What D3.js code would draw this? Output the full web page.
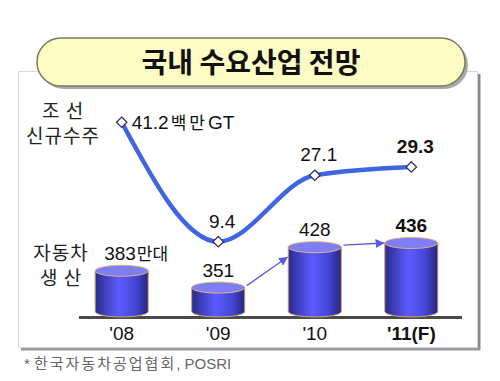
<!DOCTYPE html>
<html><head><meta charset="utf-8">
<script src="https://cdn.jsdelivr.net/npm/d3@7"></script>
<style>body{margin:0;background:#fff}svg{display:block}</style>
</head><body>
<svg id="c" width="500" height="381"></svg>
<script>
const categories = ["'08", "'09", "'10", "'11(F)"];
const carValues = [383, 351, 428, 436];
const carLabels = ["383", "351", "428", "436"];
const shipValues = [41.2, 9.4, 27.1, 29.3];
const shipLabels = ["41.2", "9.4", "27.1", "29.3"];
const title = "국내 수요산업 전망";
const footnoteSource = "한국자동차공업협회";
const footnoteTail = ", POSRI";

const svg = d3.select("#c");
const font = "Arial, 'Liberation Sans', sans-serif";
const kfont = "'Noto Sans CJK KR', sans-serif";
const defs = svg.append("defs");

// frame
svg.append("line").attr("x1",479).attr("x2",479).attr("y1",74).attr("y2",350).attr("stroke","#8a8a8a").attr("stroke-width",3);
svg.append("line").attr("x1",21).attr("x2",480).attr("y1",349).attr("y2",349).attr("stroke","#9a9a9a").attr("stroke-width",3);
svg.append("rect").attr("x",18.5).attr("y",71.5).attr("width",459).attr("height",276).attr("fill","#fff").attr("stroke","#d4d4e4");

// title pill
svg.append("rect").attr("x",40).attr("y",41).attr("width",428).attr("height",48).attr("rx",24).attr("fill","#a9a9a9");
svg.append("rect").attr("x",37).attr("y",38).attr("width",428).attr("height",48).attr("rx",24)
  .attr("fill","#fdfcc4").attr("stroke","#7a7a60").attr("stroke-width",1.5);
svg.append("text").attr("x",251).attr("y",73).attr("text-anchor","middle")
  .attr("font-family",kfont).attr("font-weight","bold").attr("font-size",28).attr("fill","#111").text(title);

// scales
const x = d3.scaleBand().domain(categories).range([71, 462]).paddingInner(0.45).paddingOuter(0.25);
const yBar = d3.scaleLinear().domain([295, 436]).range([317, 243]);
const yLine = d3.scaleLinear().domain([0, 45]).range([277, 108]);
const cx = c => x(c) + x.bandwidth()/2;

// baseline
svg.append("line").attr("x1",79).attr("x2",462).attr("y1",317.5).attr("y2",317.5).attr("stroke","#4a4a4a").attr("stroke-width",3);

// cylinder gradient
const g = defs.append("linearGradient").attr("id","cyl").attr("x1","0").attr("x2","1").attr("y1","0").attr("y2","0");
g.append("stop").attr("offset","0%").attr("stop-color","#2a2a8c");
g.append("stop").attr("offset","45%").attr("stop-color","#5c5cff");
g.append("stop").attr("offset","75%").attr("stop-color","#4646d8");
g.append("stop").attr("offset","100%").attr("stop-color","#262680");

const ry = 5.5;
const bars = svg.selectAll(".bar").data(categories).enter().append("g");
bars.each(function(c, i){
  const gg = d3.select(this);
  const x0 = x(c), w = x.bandwidth(), top = yBar(carValues[i]), bot = 317;
  gg.append("path").attr("d",
    `M${x0},${top} L${x0},${bot-ry} A${w/2},${ry} 0 0 0 ${x0+w},${bot-ry} L${x0+w},${top} Z`)
    .attr("fill","url(#cyl)").attr("stroke","#d9a36a").attr("stroke-width",1);
  gg.append("ellipse").attr("cx",x0+w/2).attr("cy",top).attr("rx",w/2).attr("ry",ry)
    .attr("fill","#7f7ff5").attr("stroke","#e0b080").attr("stroke-width",1);
});

// arrows between bars
defs.append("marker").attr("id","ah").attr("viewBox","0 0 10 10").attr("refX",9).attr("refY",5)
  .attr("markerWidth",7).attr("markerHeight",7).attr("orient","auto")
  .append("path").attr("d","M0,0 L10,5 L0,10 Z").attr("fill","#5a5ae8");
for (let i = 1; i < categories.length - 1; i++) {
  const a = categories[i], b = categories[i+1];
  svg.append("line")
    .attr("x1", x(a)+x.bandwidth()+2).attr("y1", yBar(carValues[i])-2)
    .attr("x2", x(b)-1).attr("y2", yBar(carValues[i+1])+ (i===1?10:0))
    .attr("stroke","#5a5ae8").attr("stroke-width",1.3).attr("marker-end","url(#ah)");
}

// bar labels
carLabels.forEach((t,i)=>{
  const tx = svg.append("text").attr("x",cx(categories[i])).attr("y",yBar(carValues[i])-11)
    .attr("text-anchor", i===0 ? "start" : "middle").attr("font-family",font).attr("font-size",19)
    .attr("font-weight", i===3 ? "bold" : "normal").attr("fill","#111");
  if (i===0) {
    tx.attr("x", x(categories[i])+9);
    tx.append("tspan").text(t);
    tx.append("tspan").attr("font-family",kfont).attr("font-size",17).attr("dx",1).text("만대");
  } else tx.text(t);
});

// line
const line = d3.line().x((d,i)=>cx(categories[i])).y(d=>yLine(d)).curve(d3.curveMonotoneX);
svg.append("path").datum(shipValues).attr("d",line).attr("fill","none").attr("stroke","#4064e2").attr("stroke-width",4.5);
svg.selectAll(".pt").data(shipValues).enter().append("path")
  .attr("d", d3.symbol().type(d3.symbolDiamond2).size(70))
  .attr("transform",(d,i)=>`translate(${cx(categories[i])},${yLine(d)})`)
  .attr("fill","#fff").attr("stroke","#2a2a60").attr("stroke-width",1.2);

shipLabels.forEach((t,i)=>{
  const px = cx(categories[i]), py = yLine(shipValues[i]);
  const tx = svg.append("text").attr("font-family",font).attr("font-size",19).attr("fill","#111")
    .attr("font-weight", i===3 ? "bold" : "normal");
  if (i===0) {
    tx.attr("x",px+10).attr("y",py+7).attr("text-anchor","start");
    tx.append("tspan").text(t);
    tx.append("tspan").attr("font-family",kfont).attr("font-size",17).attr("dx",2).attr("letter-spacing",3).text("백만");
    tx.append("tspan").text("GT");
  } else {
    tx.attr("x",px+4).attr("y",py-14).attr("text-anchor","middle").text(t);
  }
});

// side labels
const side = [["조 선",118],["신규수주",143],["자동차",260],["생 산",285]];
side.forEach(([t,y],i)=>{
  svg.append("text").attr("x", i<2 ? 63 : 61).attr("y",y).attr("text-anchor","middle")
    .attr("font-family",kfont).attr("font-size",19).attr("letter-spacing",1).attr("fill","#222").text(t);
});

// x axis labels
svg.selectAll(".xl").data(categories).enter().append("text")
  .attr("x",c=>cx(c)).attr("y",340).attr("text-anchor","middle")
  .attr("font-family",font).attr("font-size",19).attr("fill","#111")
  .attr("font-weight",(c,i)=>i===3?"bold":"normal").text(c=>c);

// footnote
const fn = svg.append("text").attr("x",24).attr("y",369).attr("font-size",15).attr("fill","#666");
fn.append("tspan").attr("font-family",font).text("* ");
fn.append("tspan").attr("font-family",kfont).attr("letter-spacing",2).text(footnoteSource);
fn.append("tspan").attr("font-family",font).text(footnoteTail);
</script>
</body></html>
